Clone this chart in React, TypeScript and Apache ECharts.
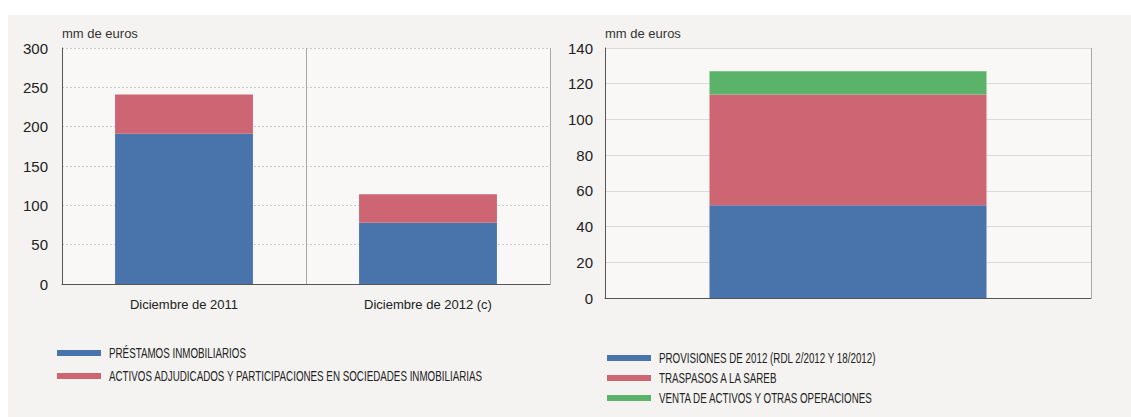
import React, { useEffect, useRef } from "react";
import * as echarts from "echarts";

const leftCategories = ["Diciembre de 2011", "Diciembre de 2012 (c)"];
const prestamos = [191, 78];
const activos = [50, 36];
const leftTicks = { min: 0, max: 300, interval: 50 };

const rightCategories = [""];
const provisiones = [52];
const traspasos = [62];
const venta = [13];
const rightTicks = { min: 0, max: 140, interval: 20 };

const leftNames = [
  "PRÉSTAMOS INMOBILIARIOS",
  "ACTIVOS ADJUDICADOS Y PARTICIPACIONES EN SOCIEDADES INMOBILIARIAS",
];
const rightNames = [
  "PROVISIONES DE 2012 (RDL 2/2012 Y 18/2012)",
  "TRASPASOS A LA SAREB",
  "VENTA DE ACTIVOS Y OTRAS OPERACIONES",
];

const BLUE = "#4873ab";
const RED = "#cd6573";
const GREEN = "#5bb36a";
const FONT = "Liberation Sans";

function legendGraphic(names: string[], colors: string[], x: number, y0: number, step: number) {
  const out: any[] = [];
  names.forEach((n, i) => {
    const y = y0 + i * step;
    out.push({
      type: "rect",
      shape: { x, y: y - 3, width: 44, height: 6 },
      style: { fill: colors[i] },
      silent: true,
    });
    out.push({
      type: "group",
      x: x + 52,
      y,
      scaleX: 0.7,
      children: [
        {
          type: "text",
          x: 0,
          y: 0,
          style: {
            text: n,
            fontSize: 14,
            fontFamily: FONT,
            fill: "#222",
            verticalAlign: "middle",
            align: "left",
          },
        },
      ],
    });
  });
  return out;
}

export default function App() {
  const ref = useRef<HTMLDivElement>(null);
  useEffect(() => {
    if (!ref.current) return;
    const chart = echarts.init(ref.current, undefined, { renderer: "svg" });
    const yAxisCommon = (idx: number, t: { min: number; max: number; interval: number }, margin: number) => ({
      type: "value",
      gridIndex: idx,
      min: t.min,
      max: t.max,
      interval: t.interval,
      name: "mm de euros",
      nameLocation: "end",
      nameGap: 8,
      nameTextStyle: { align: "left", fontSize: 13, color: "#333", fontFamily: FONT },
      axisLine: { show: true, lineStyle: { color: "#555", width: 1 } },
      axisTick: { show: false },
      axisLabel: { fontSize: 15, color: "#222", margin, fontFamily: FONT },
      splitLine: idx === 0
        ? { show: true, lineStyle: { color: "#c9c9c9", type: [2, 2], width: 1 } }
        : { show: true, lineStyle: { color: "#dadada", type: "solid", width: 1 } },
    });
    chart.setOption({
      animation: false,
      backgroundColor: "#f4f3f1",
      graphic: [
        { type: "rect", shape: { x: 0, y: 0, width: 1131, height: 15 }, style: { fill: "#ffffff" }, silent: true, z: -10 },
        { type: "rect", shape: { x: 0, y: 0, width: 8, height: 417 }, style: { fill: "#ffffff" }, silent: true, z: -10 },
        ...legendGraphic(leftNames, [BLUE, RED], 57, 353, 23),
        ...legendGraphic(rightNames, [BLUE, RED, GREEN], 607, 358, 20),
      ],
      grid: [
        { left: 62, top: 48, width: 488, height: 236, show: true, backgroundColor: "#f9f8f7", borderWidth: 0 },
        { left: 605, top: 48, width: 486, height: 250, show: true, backgroundColor: "#f9f8f7", borderWidth: 0 },
      ],
      xAxis: [
        {
          type: "category",
          gridIndex: 0,
          data: leftCategories,
          axisLine: { show: true, lineStyle: { color: "#555", width: 1 } },
          axisTick: { show: false },
          axisLabel: { fontSize: 13, color: "#222", margin: 14, fontFamily: FONT },
          splitLine: { show: true, lineStyle: { color: "#a8a8a8", width: 1 } },
        },
        {
          type: "category",
          gridIndex: 1,
          data: rightCategories,
          axisLine: { show: true, lineStyle: { color: "#555", width: 1 } },
          axisTick: { show: false },
          axisLabel: { show: false },
          splitLine: { show: true, lineStyle: { color: "#a8a8a8", width: 1 } },
        },
      ],
      yAxis: [yAxisCommon(0, leftTicks, 14), yAxisCommon(1, rightTicks, 12)],
      series: [
        { name: leftNames[0], type: "bar", stack: "a", xAxisIndex: 0, yAxisIndex: 0, data: prestamos, barWidth: "56.5%", itemStyle: { color: BLUE } },
        { name: leftNames[1], type: "bar", stack: "a", xAxisIndex: 0, yAxisIndex: 0, data: activos, barWidth: "56.5%", itemStyle: { color: RED } },
        { name: rightNames[0], type: "bar", stack: "b", xAxisIndex: 1, yAxisIndex: 1, data: provisiones, barWidth: "57%", itemStyle: { color: BLUE } },
        { name: rightNames[1], type: "bar", stack: "b", xAxisIndex: 1, yAxisIndex: 1, data: traspasos, barWidth: "57%", itemStyle: { color: RED } },
        { name: rightNames[2], type: "bar", stack: "b", xAxisIndex: 1, yAxisIndex: 1, data: venta, barWidth: "57%", itemStyle: { color: GREEN } },
      ],
    });
    return () => chart.dispose();
  }, []);
  return (
    <div
      ref={ref}
      style={{ position: "fixed", left: 0, top: 0, width: 1131, height: 417 }}
    />
  );
}
